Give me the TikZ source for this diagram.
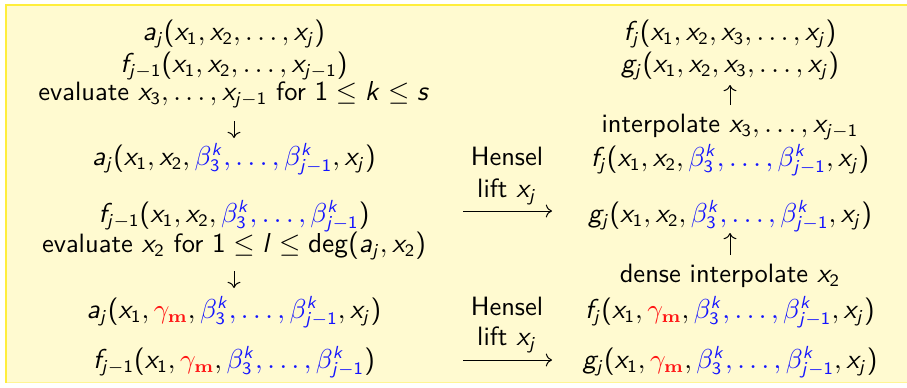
\documentclass[tikz,border=0pt]{standalone}
\usetikzlibrary{arrows.meta}
\DeclareSymbolFont{sfletters}{OT1}{cmss}{m}{sl}
\SetSymbolFont{operators}{normal}{OT1}{cmss}{m}{n}
\newcommand\sfl[1]{\DeclareMathSymbol{#1}{\mathalpha}{sfletters}{`#1}}
\sfl a \sfl d \sfl e \sfl f \sfl g \sfl j \sfl k \sfl l \sfl s \sfl x
\definecolor{bgyel}{RGB}{255,250,208}
\definecolor{bdyel}{RGB}{255,238,60}
\definecolor{bmblue}{RGB}{20,20,255}
\definecolor{bmred}{RGB}{255,20,20}
\newcommand\bks{\textcolor{bmblue}{\beta^k_3,\ldots,\beta^k_{j-1}}}
\newcommand\gm{\textcolor{bmred}{\gamma_{\mathbf{m}}}}
\begin{document}
\begin{tikzpicture}[x=0.4pt,y=-0.4pt,
  lbl/.style={font=\sffamily\fontsize{10.6}{12.7}\selectfont, inner sep=0pt, anchor=base},
  arr/.style={line width=0.4pt, -{Computer Modern Rightarrow}}]
\useasboundingbox (0,0) rectangle (907,387);
\fill[bgyel] (6,5) rectangle (907,383);
\draw[bgyel!60!bdyel, line width=0.4pt] (6,382.5) -- (907,382.5);
\draw[bdyel, line width=0.8pt] (907,5) -- (6,5) -- (6,383);
% left column
\node[lbl] (L1) at (234,40) {$a_j(x_1,x_2,\ldots,x_j)$};
\node[lbl] (L2) at (234,72) {$f_{j-1}(x_1,x_2,\ldots,x_{j-1})$};
\node[lbl] (L3) at (234,100) {evaluate $x_3,\ldots,x_{j-1}$ for $1\le k\le s$};
\node[lbl] (L4) at (234,165) {$a_j(x_1,x_2,\bks,x_j)$};
\node[lbl] (L5) at (234,222) {$f_{j-1}(x_1,x_2,\bks)$};
\node[lbl] (L6) at (234,252) {evaluate $x_2$ for $1\le l\le \deg(a_j,x_2)$};
\node[lbl] (L7) at (234,318) {$a_j(x_1,\gm,\bks,x_j)$};
\node[lbl] (L8) at (234,368) {$f_{j-1}(x_1,\gm,\bks)$};
% right column
\node[lbl] (R1) at (730,40) {$f_j(x_1,x_2,x_3,\ldots,x_j)$};
\node[lbl] (R2) at (730,72) {$g_j(x_1,x_2,x_3,\ldots,x_j)$};
\node[lbl] (R3) at (730,132) {interpolate $x_3,\ldots,x_{j-1}$};
\node[lbl] (R4) at (730,166) {$f_j(x_1,x_2,\bks,x_j)$};
\node[lbl] (R5) at (730,222) {$g_j(x_1,x_2,\bks,x_j)$};
\node[lbl] (R6) at (730,282) {dense interpolate $x_2$};
\node[lbl] (R7) at (730,318) {$f_j(x_1,\gm,\bks,x_j)$};
\node[lbl] (R8) at (730,368) {$g_j(x_1,\gm,\bks,x_j)$};
% middle
\node[lbl] (H1) at (507,165) {Hensel};
\node[lbl] (F1) at (507,197) {lift $x_j$};
\node[lbl] (H2) at (507,315) {Hensel};
\node[lbl] (F2) at (507,345) {lift $x_j$};
% vertical arrows
\draw[arr] ([yshift=-8.4pt]L3.base) -- ([yshift=10.8pt]L4.base);
\draw[arr] ([yshift=-7.6pt]L6.base) -- ([yshift=12pt]L7.base);
\draw[arr] ([yshift=10.8pt]R3.base) -- ([yshift=-5.2pt]R2.base);
\draw[arr] ([yshift=10.8pt]R6.base) -- ([yshift=-4.4pt]R5.base);
% horizontal arrows
\draw[arr] ([shift={(-17.6pt,-5.6pt)}]F1.base) -- ([shift={(18pt,-5.6pt)}]F1.base);
\draw[arr] ([shift={(-17.6pt,-6pt)}]F2.base) -- ([shift={(18pt,-6pt)}]F2.base);
\end{tikzpicture}
\end{document}
